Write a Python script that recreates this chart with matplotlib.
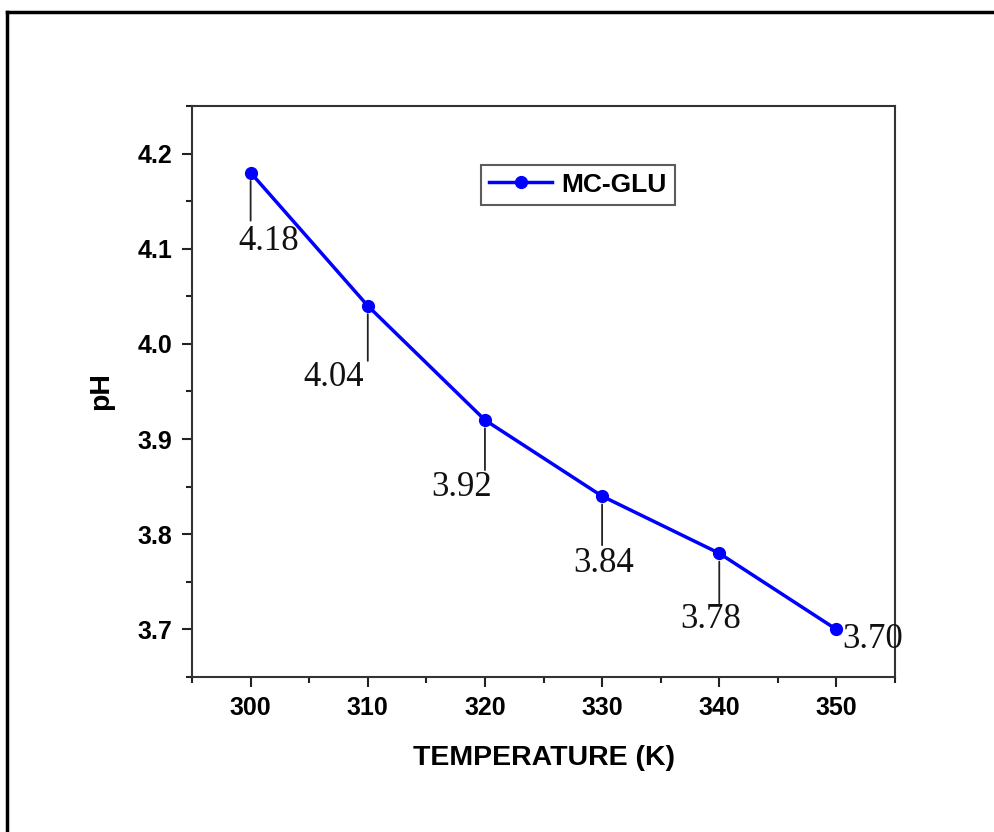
import matplotlib
matplotlib.use("Agg")
import matplotlib.pyplot as plt
from matplotlib.lines import Line2D
from matplotlib.ticker import MultipleLocator

temperature = [300, 310, 320, 330, 340, 350]
ph = [4.18, 4.04, 3.92, 3.84, 3.78, 3.70]
labels = ["4.18", "4.04", "3.92", "3.84", "3.78", "3.70"]
series_name = "MC-GLU"

# label offsets (pixels) and leader line lengths (pixels)
label_offsets = [(18, -69), (-34, -72), (-23, -67), (2, -67), (-9, -66), (36, -10)]
leader_len = [48, 55, 50, 49, 50, 0]

fig = plt.figure(figsize=(9.95, 8.32), dpi=100)
ax = fig.add_axes([0.193, 0.1863, 0.7065, 0.6863])

ax.plot(temperature, ph, color="#0000ff", lw=2.5, marker="o", ms=8.5,
        markeredgecolor="#0000ff", label=series_name)

for x, y, t, off, ll in zip(temperature, ph, labels, label_offsets, leader_len):
    if ll > 0:
        ax.annotate("", xy=(x, y), xytext=(0, -ll), textcoords="offset pixels",
                    arrowprops=dict(arrowstyle="-", color="#222222", lw=1.3,
                                    shrinkA=0, shrinkB=6))
    ax.annotate(t, xy=(x, y), xytext=off, textcoords="offset pixels",
                ha="center", va="center", fontsize=25,
                family="Liberation Serif", color="#111111")

ax.set_xlim(295, 355)
ax.set_ylim(3.65, 4.25)
ax.xaxis.set_major_locator(MultipleLocator(10))
ax.xaxis.set_minor_locator(MultipleLocator(5))
ax.yaxis.set_major_locator(MultipleLocator(0.1))
ax.yaxis.set_minor_locator(MultipleLocator(0.05))
ax.yaxis.set_major_formatter(matplotlib.ticker.FormatStrFormatter("%.1f"))

for s in ax.spines.values():
    s.set_linewidth(1.5)
    s.set_color("#333333")
ax.tick_params(which="both", direction="out", color="#222222", width=1.5,
               top=False, right=False)
ax.tick_params(which="major", length=7, pad=7)
ax.tick_params(which="minor", length=4.5)
for lab in ax.get_xticklabels() + ax.get_yticklabels():
    lab.set_fontfamily("Liberation Sans")
    lab.set_fontweight("bold")
    lab.set_fontsize(18)

ax.set_xlabel("TEMPERATURE (K)", fontsize=20.5, fontweight="bold",
              family="Liberation Sans", labelpad=18)
ax.set_ylabel("pH", fontsize=20.5, fontweight="bold",
              family="Liberation Sans", labelpad=17)

leg = ax.legend(loc="upper left", bbox_to_anchor=(0.411, 0.897), frameon=True,
                borderaxespad=0, fancybox=False, edgecolor="#333333",
                handlelength=2.4, borderpad=0.3, handletextpad=0.35,
                prop={"family": "Liberation Sans", "weight": "bold", "size": 19})
leg.get_frame().set_linewidth(1.5)

# outer frame (left and top edges only visible)
fig.add_artist(Line2D([7 / 995, 7 / 995], [0, 1 - 12 / 832], transform=fig.transFigure,
                      color="black", lw=2.5))
fig.add_artist(Line2D([7 / 995, 1], [1 - 12 / 832, 1 - 12 / 832], transform=fig.transFigure,
                      color="black", lw=2.5))

fig.savefig("out.png", dpi=100)
